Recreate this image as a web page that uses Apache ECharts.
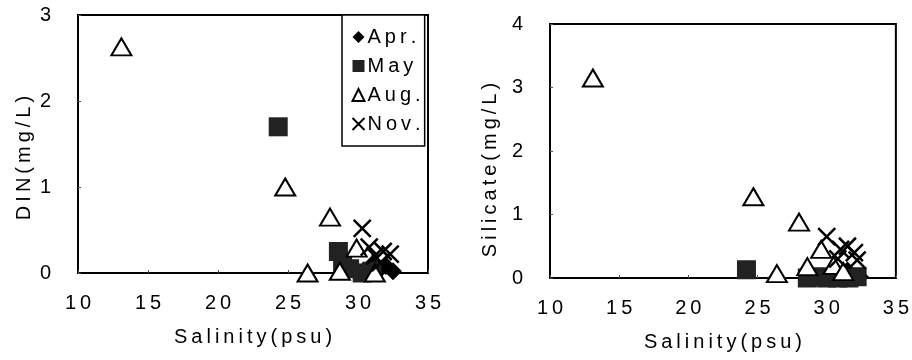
<!DOCTYPE html>
<html>
<head>
<meta charset="utf-8" />
<title>DIN / Silicate vs Salinity</title>
<style>
  html, body { margin: 0; padding: 0; background: #fff; }
  #chart { width: 912px; height: 360px; }
</style>
</head>
<body>
<div id="chart"></div>
<script src="https://cdn.jsdelivr.net/npm/echarts@6/dist/echarts.min.js"></script>
<script>
// month names
var months = ['Apr.', 'May', 'Aug.', 'Nov.'];
// x axis ticks (salinity, psu)
var salTicks = [10, 15, 20, 25, 30, 35];

// DIN (mg/L) vs salinity: [salinity, DIN]
var dinApr = [[30.4, 0.03], [31.0, 0.1], [31.6, 0.05], [32.0, 0.08], [32.5, 0.02], [31.3, 0.0]];
var dinMay = [[24.3, 1.7], [28.6, 0.25], [28.9, 0.1], [29.4, 0.05], [30.3, 0.0], [31.0, 0.02]];
var dinAug = [[13.1, 2.63], [24.8, 1.0], [28.0, 0.65], [26.4, 0.0], [28.7, 0.02], [29.9, 0.29], [31.2, 0.0]];
var dinNov = [[30.3, 0.52], [30.8, 0.3], [31.2, 0.2], [31.8, 0.25], [32.3, 0.22], [31.6, 0.12]];

// Silicate (mg/L) vs salinity
var silApr = [[30.5, 0.03], [31.2, 0.08], [31.8, 0.0], [32.4, 0.02], [31.5, 0.12]];
var silMay = [[24.2, 0.13], [28.6, 0.0], [29.3, 0.02], [30.0, 0.0], [30.8, 0.0], [31.6, 0.0], [32.2, 0.02]];
var silAug = [[13.1, 3.15], [24.7, 1.28], [28.0, 0.88], [26.4, 0.07], [28.6, 0.18], [29.6, 0.45], [30.5, 0.2], [31.2, 0.1]];
var silNov = [[30.0, 0.65], [31.0, 0.45], [31.5, 0.5], [32.0, 0.4], [32.2, 0.28], [30.8, 0.3]];

var FONT = '"Liberation Sans", Arial, sans-serif';
var crossPath = 'path://M0,0L10,10M10,0L0,10';

// widen letters a little like the scanned figure
function sp(s) { return s.split('').join('\u2009'); }

var styles = [
  { symbol: 'diamond', symbolSize: 18, itemStyle: { color: '#000', opacity: 1 } },
  { symbol: 'rect', symbolSize: 19, itemStyle: { color: '#222', opacity: 1 } },
  { symbol: 'triangle', symbolSize: [20, 17], itemStyle: { color: '#fff', borderColor: '#000', borderWidth: 2, opacity: 1 } },
  { symbol: crossPath, symbolSize: 17, itemStyle: { color: 'none', borderColor: '#000', borderWidth: 2.5, opacity: 1 } }
];

function xAx(gi) {
  return {
    gridIndex: gi, type: 'value', min: 10, max: 35, interval: 5,
    name: sp('Salinity(psu)'), nameLocation: 'middle', nameGap: 54,
    nameTextStyle: { fontFamily: FONT, fontSize: 20, color: '#000' },
    axisLine: { lineStyle: { color: '#000', width: 2 } },
    axisTick: { inside: true, length: 3, lineStyle: { color: '#555' } },
    axisLabel: { margin: 20, fontFamily: FONT, fontSize: 20, color: '#000',
      formatter: function (v) { return salTicks.indexOf(v) >= 0 ? sp(String(v)) : ''; } },
    splitLine: { show: false }
  };
}
function yAx(gi, max, name, gap, shift) {
  return {
    gridIndex: gi, type: 'value', min: 0, max: max, interval: 1,
    name: sp(name), nameLocation: 'middle', nameGap: gap,
    nameTextStyle: { fontFamily: FONT, fontSize: 20, color: '#000', padding: [0, shift, 0, 0] },
    axisLine: { lineStyle: { color: '#000', width: 2 } },
    axisTick: { inside: true, length: 3, lineStyle: { color: '#555' } },
    axisLabel: { margin: 27, fontFamily: FONT, fontSize: 20, color: '#000' },
    splitLine: { show: false }
  };
}

var groups = [[dinApr, dinMay, dinAug, dinNov], [silApr, silMay, silAug, silNov]];
var series = [];
for (var g = 0; g < 2; g++) {
  for (var i = 0; i < months.length; i++) {
    series.push({
      name: months[i], type: 'scatter', xAxisIndex: g, yAxisIndex: g,
      symbol: styles[i].symbol, symbolSize: styles[i].symbolSize,
      itemStyle: styles[i].itemStyle, data: groups[g][i], z: 2 + i
    });
  }
}

var chart = echarts.init(document.getElementById('chart'), null, { renderer: 'canvas' });
chart.setOption({
  animation: false,
  backgroundColor: '#fff',
  grid: [
    { left: 78, top: 15, width: 350, height: 258, show: true, borderColor: '#000', borderWidth: 2 },
    { left: 550, top: 24, width: 353, height: 254, show: true, borderColor: '#000', borderWidth: 2 }
  ],
  xAxis: [xAx(0), xAx(1)],
  yAxis: [yAx(0, 3, 'DIN(mg/L)', 44, 28), yAx(1, 4, 'Silicate(mg/L)', 50, 38)],
  legend: {
    orient: 'vertical', left: 342, top: 15,
    backgroundColor: '#fff', borderColor: '#000', borderWidth: 1.5, borderRadius: 0,
    padding: [12, 4, 12, 8], itemGap: 9, itemWidth: 12, itemHeight: 12,
    textStyle: { fontFamily: FONT, fontSize: 20, color: '#000', padding: [0, 0, 0, -2] },
    formatter: function (n) { return sp(n); },
    data: months
  },
  series: series
});
</script>
</body>
</html>
